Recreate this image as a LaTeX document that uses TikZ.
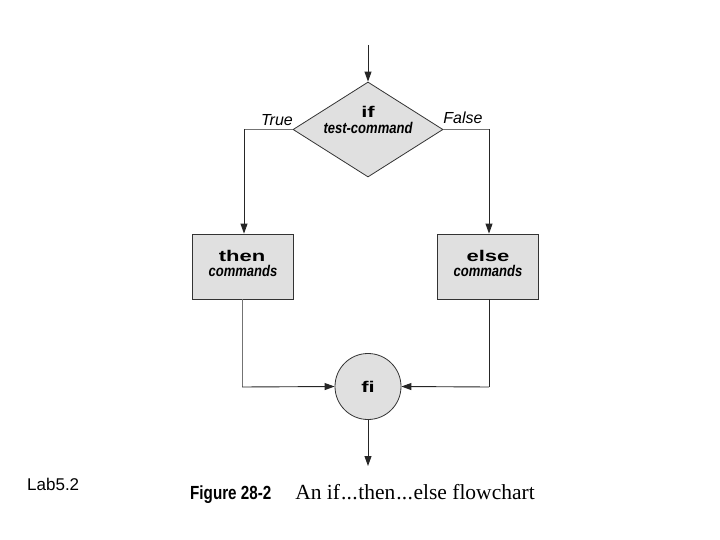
\documentclass[tikz,border=0pt]{standalone}
\usepackage{fontspec}
\setmainfont{Liberation Serif}
\setsansfont{Liberation Sans}
\newfontfamily\diagfont{Liberation Sans}
\usetikzlibrary{arrows.meta,shapes.geometric}
\newcommand{\heavyword}[1]{\scalebox{1.42}[1]{\diagfont\bfseries\fontsize{15.5}{15.5}\selectfont #1}}
\newcommand{\italword}[1]{\scalebox{0.84}[1]{\diagfont\bfseries\itshape\fontsize{15.5}{15.5}\selectfont #1}}
\begin{document}
\begin{tikzpicture}[x=1pt,y=-1pt,
  conn/.style={line width=0.9pt,draw=black!85},
  lconn/.style={line width=0.7pt,draw=black!55},
  arr/.style={-{Triangle[length=10pt,width=7pt]}},
  shade/.style={fill=black!12,draw=black!80,line width=0.8pt},
  boxsty/.style={shade,rectangle,minimum width=101pt,minimum height=65pt,inner sep=0pt,align=center},
  lbl/.style={inner sep=0pt},
  tf/.style={font=\diagfont\itshape\fontsize{16}{16}\selectfont,inner sep=0pt},
  hw/.style={inner sep=0pt}
]
\useasboundingbox (0,0) rectangle (720,540);

\coordinate (start) at (368,45);
\node[shade,diamond,minimum width=150pt,minimum height=95pt,inner sep=0pt,aspect=1.58] (dec) at (368,129.5) {};
\node[hw] (ift) at (368,112) {\heavyword{if}};
\node[lbl] (tc) at (368,128) {\italword{test-command}};

\node[tf] (true) at (277,120) {True};
\node[tf] (false) at (463,118) {False};

\node[boxsty] (then) at (242.5,266.5) {};
\node[hw] (thent) at (242,256) {\heavyword{then}};
\node[lbl] (thenc) at (243,271) {\italword{commands}};

\node[boxsty] (else) at (487.5,266.5) {};
\node[hw] (elset) at (488,256) {\heavyword{else}};
\node[lbl] (elsec) at (488,271) {\italword{commands}};

\node[shade,circle,minimum size=66pt,inner sep=0pt] (fi) at (368,386.5) {};
\node[hw] (fit) at (368,387) {\heavyword{fi}};

\coordinate (tl) at (244,129.5);
\coordinate (tr) at (489,129.5);
\coordinate (bl) at (242,387);
\coordinate (br) at (489,387);
\coordinate (endpt) at (368,466);

\draw[conn,arr] (start) -- (dec.north);
\draw[lconn] (dec.west) -- (tl);
\draw[conn,arr] (tl) -- (then.north -| tl);
\draw[lconn] (dec.east) -- (tr);
\draw[conn,arr] (tr) -- (else.north -| tr);
\draw[lconn] (then.south -| bl) -- (bl);
\draw[conn,arr] (bl) -- (fi.west);
\draw[conn] (else.south -| br) -- (br);
\draw[conn,arr] (br) -- (fi.east);
\draw[conn,arr] (fi.south) -- (endpt);

\node[font=\sffamily\fontsize{17}{17}\selectfont,anchor=west,inner sep=0pt] (lab) at (27,484) {Lab5.2};
\node[anchor=west,inner sep=0pt] (cap) at (190,494) {\scalebox{0.8}[1]{\sffamily\bfseries\fontsize{19}{19}\selectfont Figure 28-2}\hspace{24pt}\fontsize{21.5}{21.5}\selectfont An if\kern1pt.\kern0.3pt.\kern0.3pt.\kern0.5pt then\kern1pt.\kern0.3pt.\kern0.3pt.\kern0.5pt else flowchart};
\end{tikzpicture}
\end{document}
